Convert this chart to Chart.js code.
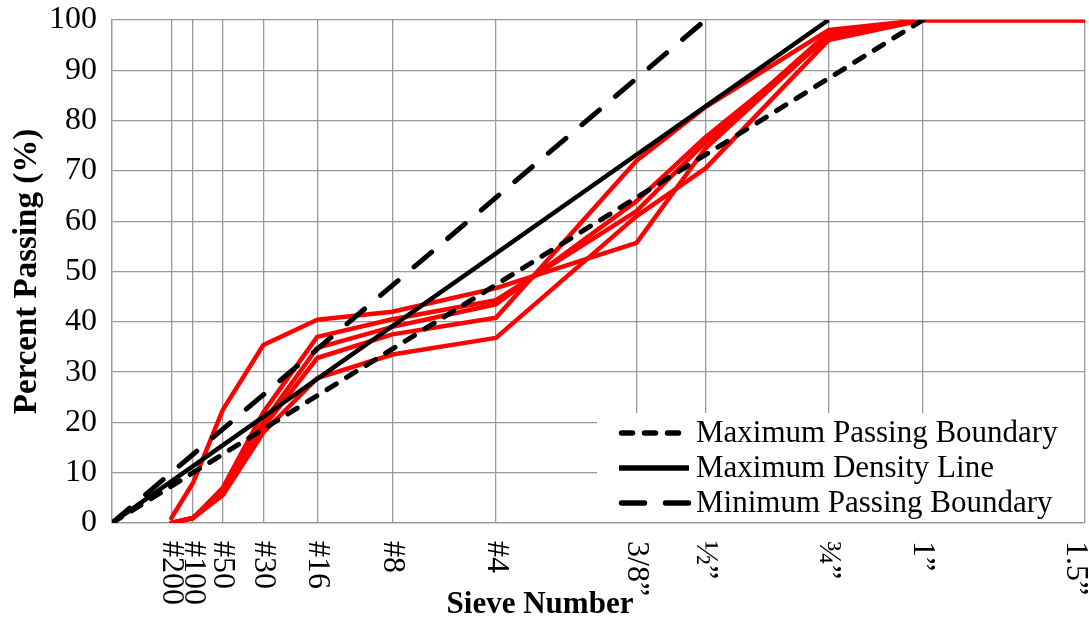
<!DOCTYPE html>
<html>
<head>
<meta charset="utf-8">
<script src="https://cdn.jsdelivr.net/npm/chart.js@4/dist/chart.umd.min.js"></script>
<style>
  html, body { margin: 0; padding: 0; background: #ffffff; }
  #wrap { width: 1089px; height: 622px; }
</style>
</head>
<body>
<div id="wrap"><canvas id="c" width="1089" height="622"></canvas></div>
<script>
// Sieve designations and openings (mm); the x axis is the 0.45-power chart
const sieveLabels = ['#200', '#100', '#50', '#30', '#16', '#8', '#4', '3/8\u201D', '\u00BD\u201D', '\u00BE\u201D', '1\u201D', '1.5\u201D'];
const sieveSizesMm = [0.075, 0.15, 0.3, 0.6, 1.18, 2.36, 4.75, 9.5, 12.5, 19, 25, 37.5];
const yTicks = [0, 10, 20, 30, 40, 50, 60, 70, 80, 90, 100];

// Reference lines: [size mm] -> [percent passing]
const maxPassingSizes = [0, 25];
const maxPassingValues = [0, 100];
const maxDensitySizes = [0, 19];
const maxDensityValues = [0, 100];
const minPassingSizes = [0, 12.5];
const minPassingValues = [0, 100];

// Gradation curves (percent passing at each sieve)
const blend1 = [1, 8, 22.5, 35.4, 40.4, 42, 46.7, 55.7, 74.5, 97, 100, 100];
const blend2 = [0, 1, 7, 22, 37, 40.5, 44.3, 62, 75.7, 97.5, 100, 100];
const blend3 = [0, 1, 6.5, 20, 34.8, 39, 43.5, 64, 76.7, 96.5, 100, 100];
const blend4 = [0, 1, 6, 19, 32.8, 37.5, 40.8, 72, 82.7, 98, 100, 100];
const blend5 = [0, 1, 5.5, 18, 28.8, 33.5, 36.8, 61, 70.5, 96, 100, 100];

const POW = 0.45;
const px = s => Math.pow(s, POW);
const xPos = sieveSizesMm.map(px);
const xMax = px(37.5);

function pts(xs, ys) { return xs.map((s, i) => ({ x: px(s), y: ys[i] })); }
function curve(vals) { return xPos.map((x, i) => ({ x: x, y: vals[i] })); }

const SERIF = "'Liberation Serif', 'DejaVu Serif', serif";
const GRID = '#999999';

const legendItems = [
  { text: 'Maximum Passing Boundary', dash: [11, 12] },
  { text: 'Maximum Density Line', dash: [] },
  { text: 'Minimum Passing Boundary', dash: [23, 21] }
];

const customDraw = {
  id: 'customDraw',
  afterDraw(chart) {
    const ctx = chart.ctx;
    const xs = chart.scales.x;
    const area = chart.chartArea;
    ctx.save();
    // x tick labels, rotated to read downward
    ctx.fillStyle = '#000';
    ctx.font = '32px ' + SERIF;
    ctx.textAlign = 'left';
    ctx.textBaseline = 'middle';
    sieveLabels.forEach((lab, i) => {
      let x = xs.getPixelForValue(xPos[i]);
      x = Math.min(x, chart.width - 14);
      ctx.save();
      ctx.translate(x, area.bottom + 18);
      ctx.rotate(Math.PI / 2);
      ctx.fillText(lab, 0, 0);
      ctx.restore();
    });
    // axis titles
    ctx.font = 'bold 31px ' + SERIF;
    ctx.textAlign = 'center';
    ctx.textBaseline = 'middle';
    ctx.fillText('Sieve Number', 540, 605);
    ctx.save();
    ctx.translate(27, (area.top + area.bottom) / 2);
    ctx.rotate(-Math.PI / 2);
    ctx.font = 'bold 33px ' + SERIF;
    ctx.fillText('Percent Passing (%)', 0, 0);
    ctx.restore();

    // legend box
    const bx = area.right - 488, by = area.bottom - 110;
    ctx.fillStyle = '#fff';
    ctx.fillRect(bx, by, area.right - bx - 1, area.bottom - by - 1);
    const rows = [433, 468, 503].map(v => v - 523 + area.bottom);
    legendItems.forEach((it, i) => {
      const y = rows[i];
      ctx.strokeStyle = '#000';
      ctx.lineWidth = 5.5;
      ctx.lineCap = it.dash.length ? 'round' : 'butt';
      ctx.setLineDash(it.dash);
      ctx.beginPath();
      ctx.moveTo(bx + 22 + (it.dash.length ? 2.5 : 0), y);
      ctx.lineTo(bx + 92, y);
      ctx.stroke();
      ctx.setLineDash([]);
      ctx.fillStyle = '#000';
      ctx.font = '31px ' + SERIF;
      ctx.textAlign = 'left';
      ctx.textBaseline = 'middle';
      ctx.fillText(it.text, bx + 99, y + 1);
    });
    ctx.restore();
  }
};

const red = vals => ({
  data: curve(vals), borderColor: '#ff0000', borderWidth: 4.5, pointRadius: 0,
  fill: false, tension: 0, borderJoinStyle: 'round', borderCapStyle: 'round'
});

new Chart(document.getElementById('c'), {
  type: 'line',
  data: {
    datasets: [
      { label: 'Maximum Passing Boundary', data: pts(maxPassingSizes, maxPassingValues), borderColor: '#000', borderWidth: 5, borderDash: [11, 12], borderCapStyle: 'round', pointRadius: 0, fill: false },
      { label: 'Maximum Density Line', data: pts(maxDensitySizes, maxDensityValues), borderColor: '#000', borderWidth: 4.5, pointRadius: 0, fill: false },
      { label: 'Minimum Passing Boundary', data: pts(minPassingSizes, minPassingValues), borderColor: '#000', borderWidth: 5, borderDash: [23, 21], borderCapStyle: 'round', pointRadius: 0, fill: false },
      red(blend1), red(blend2), red(blend3), red(blend4), red(blend5)
    ]
  },
  options: {
    responsive: false,
    animation: false,
    layout: { padding: { left: 0, right: 4, top: 20, bottom: 0 } },
    plugins: { legend: { display: false }, tooltip: { enabled: false } },
    scales: {
      x: {
        type: 'linear', min: 0, max: xMax,
        afterBuildTicks: s => { s.ticks = [0].concat(xPos).map(v => ({ value: v })); },
        afterFit: s => { s.height = 99; s.paddingLeft = 0; s.paddingRight = 0; },
        ticks: { display: false },
        grid: { color: GRID, lineWidth: 1.3, drawTicks: false },
        border: { color: GRID, width: 1.3 }
      },
      y: {
        min: 0, max: 100,
        afterBuildTicks: s => { s.ticks = yTicks.map(v => ({ value: v })); },
        afterFit: s => { s.width = 112; s.paddingTop = 0; s.paddingBottom = 0; },
        ticks: { color: '#000', font: { family: SERIF, size: 32 }, padding: 15 },
        grid: { color: GRID, lineWidth: 1.3, drawTicks: false },
        border: { color: GRID, width: 1.3 }
      }
    }
  },
  plugins: [customDraw]
});
</script>
</body>
</html>
